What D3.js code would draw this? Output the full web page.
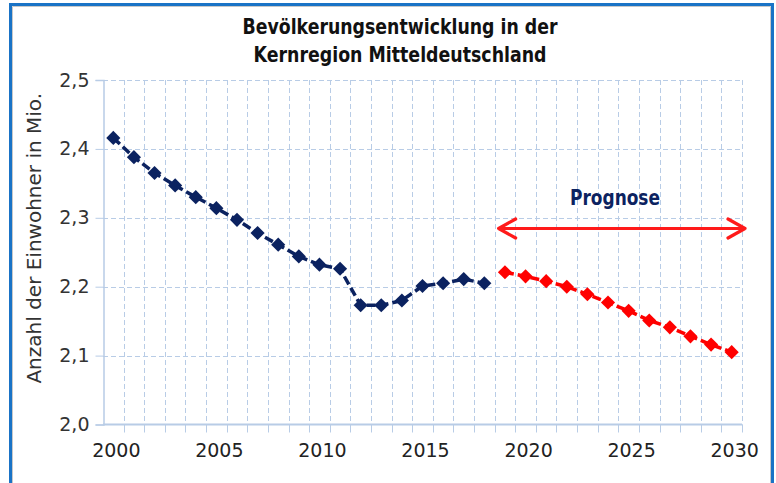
<!DOCTYPE html>
<html>
<head>
<meta charset="utf-8">
<script src="https://cdn.jsdelivr.net/npm/d3@7"></script>
<style>
  body { margin: 0; background: #fff; }
  svg text { font-family: "DejaVu Sans", sans-serif; }
</style>
</head>
<body>
<svg id="chart" width="776" height="483"></svg>
<script>
// data
var years = d3.range(2000, 2031);
var histYears = d3.range(2000, 2019);
var histValues = [2.416, 2.388, 2.365, 2.347, 2.330, 2.314, 2.297, 2.278, 2.261, 2.244,
                  2.232, 2.226, 2.173, 2.173, 2.180, 2.201, 2.205, 2.211, 2.205];
var progYears = d3.range(2019, 2031);
var progValues = [2.221, 2.215, 2.208, 2.200, 2.189, 2.177, 2.165, 2.151, 2.141, 2.128, 2.116, 2.105];
var yTicks = [2.0, 2.1, 2.2, 2.3, 2.4, 2.5];
var xLabelYears = [2000, 2005, 2010, 2015, 2020, 2025, 2030];
var titleLines = ["Bevölkerungsentwicklung in der", "Kernregion Mitteldeutschland"];
var yTitle = "Anzahl der Einwohner in Mio.";
var progLabel = "Prognose";

var svg = d3.select("#chart");
var plot = {left: 103, right: 742, top: 80, bottom: 424.5};

var x = d3.scaleBand()
    .domain(years)
    .range([plot.left, plot.right]);
var y = d3.scaleLinear()
    .domain([2.0, 2.5])
    .range([plot.bottom, plot.top]);

var gridColor = "#b8cce6";

// frame
svg.append("path")
    .attr("d", "M10.5,483 V4.5 H772.5 V483")
    .attr("fill", "none")
    .attr("stroke", "#1a73c6")
    .attr("stroke-width", 3);
svg.append("path")
    .attr("d", "M12.5,483 V6.5 H770.5 V483")
    .attr("fill", "none")
    .attr("stroke", "#c8c8c8")
    .attr("stroke-width", 1);

// title (squeezed to the narrow face of the original)
var titleWidths = [315, 293];
svg.selectAll(".title")
    .data(titleLines)
  .enter().append("text")
    .attr("class", "title")
    .attr("x", 400)
    .attr("y", function(d, i) { return 34 + i * 28; })
    .attr("text-anchor", "middle")
    .attr("font-family", "\"Open Sans\", sans-serif")
    .attr("font-size", 22)
    .attr("font-weight", 600)
    .attr("textLength", function(d, i) { return titleWidths[i]; })
    .attr("lengthAdjust", "spacingAndGlyphs")
    .attr("fill", "#111")
    .text(function(d) { return d; });

// horizontal grid
svg.selectAll(".hgrid")
    .data(yTicks.filter(function(d) { return d > 2.0; }))
  .enter().append("line")
    .attr("class", "hgrid")
    .attr("x1", plot.left).attr("x2", plot.right)
    .attr("y1", function(d) { return Math.round(y(d)) + 0.5; })
    .attr("y2", function(d) { return Math.round(y(d)) + 0.5; })
    .attr("stroke", gridColor)
    .attr("stroke-dasharray", "5,3");

// vertical grid at category boundaries
var bounds = years.map(function(d) { return x(d) + x.bandwidth(); });
svg.selectAll(".vgrid")
    .data(bounds)
  .enter().append("line")
    .attr("class", "vgrid")
    .attr("x1", function(d) { return Math.round(d) + 0.5; })
    .attr("x2", function(d) { return Math.round(d) + 0.5; })
    .attr("y1", plot.top).attr("y2", plot.bottom)
    .attr("stroke", gridColor)
    .attr("stroke-dasharray", "5,3");

// y axis
var yAxis = d3.axisLeft(y)
    .tickValues(yTicks)
    .tickSize(8)
    .tickPadding(6)
    .tickFormat(function(d) { return d3.format(".1f")(d).replace(".", ","); });
var gy = svg.append("g")
    .attr("transform", "translate(" + (plot.left + 0.5) + ",0)")
    .call(yAxis);
gy.select(".domain").attr("stroke", gridColor).attr("stroke-width", 1.5);
gy.selectAll(".tick line").attr("stroke", gridColor);
gy.selectAll(".tick text")
    .attr("font-size", 19)
    .attr("fill", "#333")
    .attr("font-family", "\"DejaVu Sans\", sans-serif");

// x axis: ticks between categories, labels every 5 years
var gx = svg.append("g")
    .attr("transform", "translate(0," + (plot.bottom) + ")");
gx.append("line")
    .attr("x1", plot.left).attr("x2", plot.right)
    .attr("y1", 0).attr("y2", 0)
    .attr("stroke", gridColor)
    .attr("stroke-width", 2);
gx.selectAll(".xtick")
    .data(bounds)
  .enter().append("line")
    .attr("class", "xtick")
    .attr("x1", function(d) { return Math.round(d) + 0.5; })
    .attr("x2", function(d) { return Math.round(d) + 0.5; })
    .attr("y1", 0).attr("y2", 8)
    .attr("stroke", gridColor);
gx.selectAll(".xlabel")
    .data(xLabelYears)
  .enter().append("text")
    .attr("class", "xlabel")
    .attr("x", function(d) { return x(d) + x.bandwidth() / 2 + 3; })
    .attr("y", 32)
    .attr("text-anchor", "middle")
    .attr("font-size", 19)
    .attr("fill", "#222")
    .text(function(d) { return d; });

// y title
svg.append("text")
    .attr("transform", "translate(41," + ((plot.top + plot.bottom) / 2 - 14) + ") rotate(-90)")
    .attr("text-anchor", "middle")
    .attr("font-size", 20)
    .attr("fill", "#333")
    .text(yTitle);

// series
var cx = function(d) { return x(d) + x.bandwidth() / 2; };
var line = d3.line()
    .x(function(d) { return cx(d[0]); })
    .y(function(d) { return y(d[1]); });

function drawSeries(yrs, vals, color) {
    var pts = d3.zip(yrs, vals);
    svg.append("path")
        .datum(pts)
        .attr("d", line)
        .attr("fill", "none")
        .attr("stroke", color)
        .attr("stroke-width", 3.5)
        .attr("stroke-dasharray", "9,4");
    svg.selectAll(null)
        .data(pts)
      .enter().append("path")
        .attr("d", d3.symbol().type(d3.symbolSquare).size(100))
        .attr("transform", function(d) { return "translate(" + cx(d[0]) + "," + y(d[1]) + ") rotate(45)"; })
        .attr("fill", color);
}
drawSeries(histYears, histValues, "#0b2260");
drawSeries(progYears, progValues, "#ff0000");

// Prognose arrow
var arrowY = 228.5;
var ax1 = x(2019) + 4, ax2 = plot.right + 3;
svg.append("path")
    .attr("d", "M" + ax1 + "," + arrowY + " H" + ax2 +
               " M" + (ax1 + 17) + "," + (arrowY - 9.5) + " L" + ax1 + "," + arrowY + " L" + (ax1 + 17) + "," + (arrowY + 9.5) +
               " M" + (ax2 - 17) + "," + (arrowY - 9.5) + " L" + ax2 + "," + arrowY + " L" + (ax2 - 17) + "," + (arrowY + 9.5))
    .attr("fill", "none")
    .attr("stroke", "#ff1a1a")
    .attr("stroke-width", 3.2)
    .attr("stroke-linecap", "round")
    .attr("stroke-linejoin", "round");
svg.append("text")
    .attr("x", 615)
    .attr("y", 205)
    .attr("text-anchor", "middle")
    .attr("font-family", "\"Open Sans\", sans-serif")
    .attr("font-size", 22)
    .attr("font-weight", 700)
    .attr("textLength", 90)
    .attr("lengthAdjust", "spacingAndGlyphs")
    .attr("fill", "#0b2260")
    .text(progLabel);
</script>
</body>
</html>
